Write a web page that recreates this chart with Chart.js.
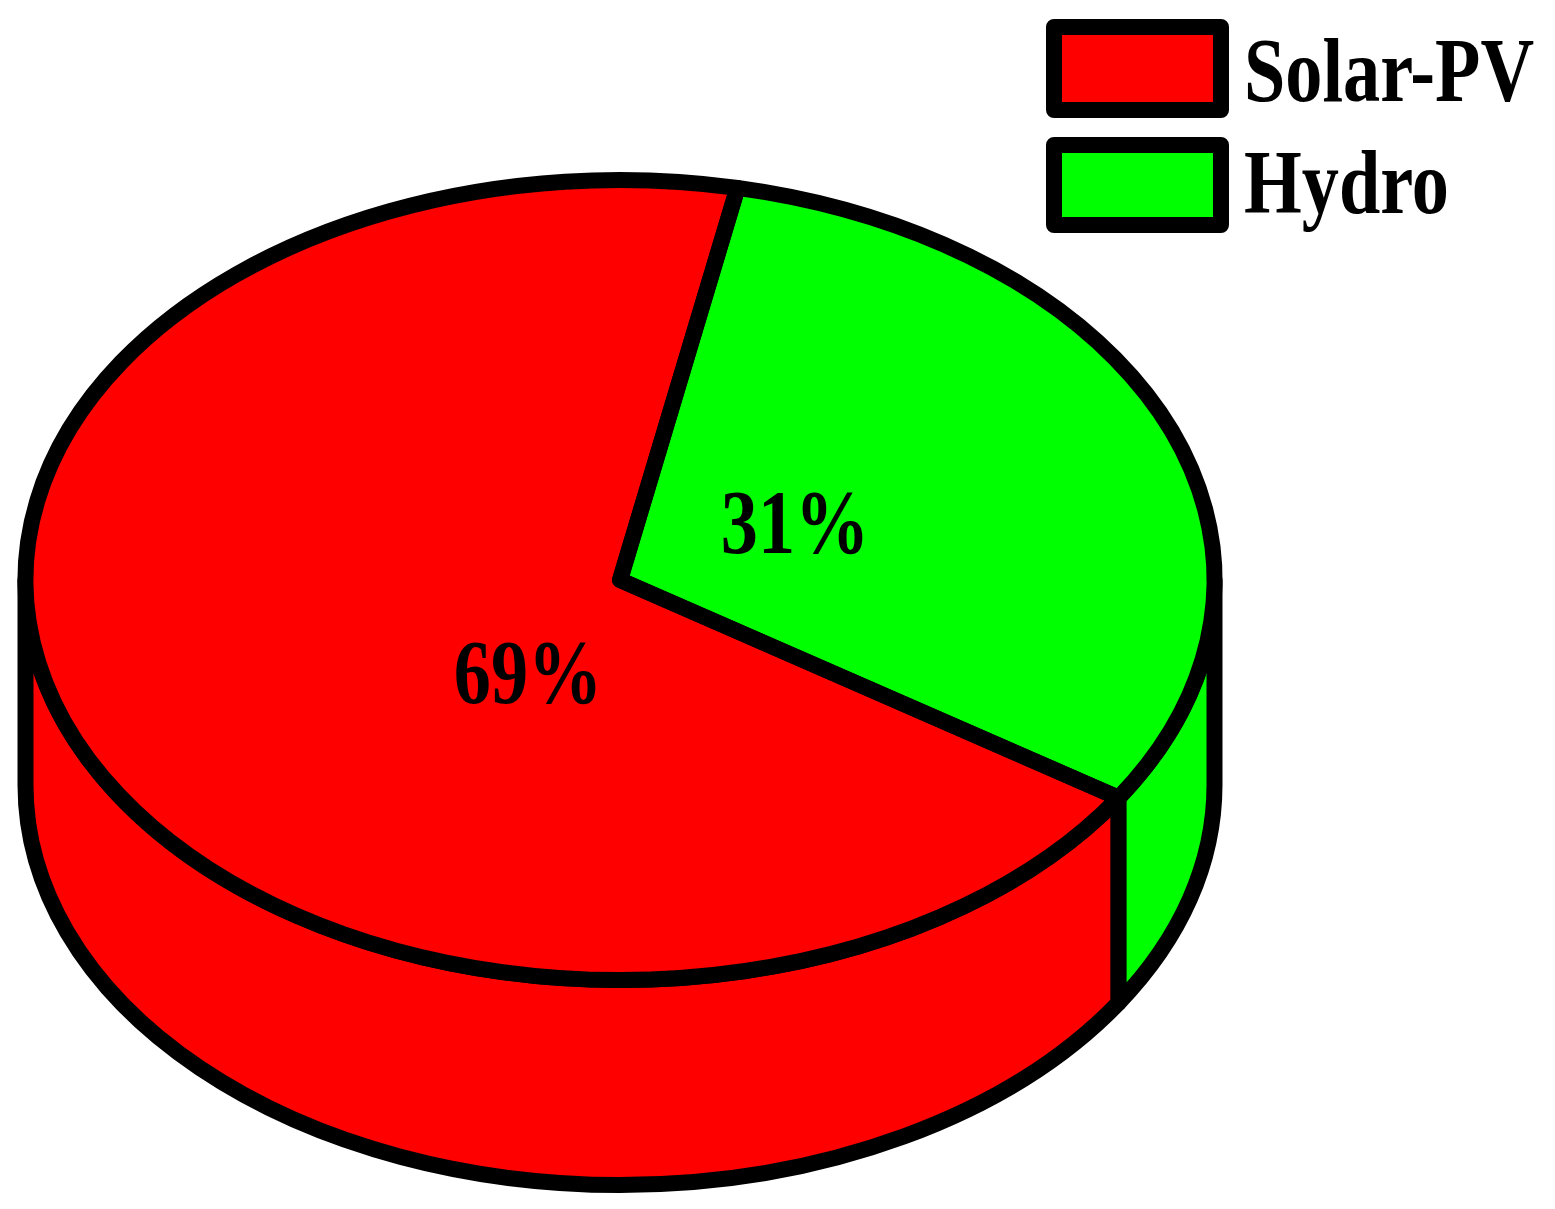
<!DOCTYPE html>
<html>
<head>
<meta charset="utf-8">
<style>html,body{margin:0;padding:0;background:#fff}canvas{display:block}</style>
<script src="https://cdn.jsdelivr.net/npm/chart.js@4/dist/chart.umd.min.js"></script>
</head>
<body>
<canvas id="c" width="1555" height="1209"></canvas>
<script>
const categories = ['Solar-PV', 'Hydro'];
const shares = [69, 31];
const sliceColors = ['#ff0000', '#00ff00'];
const percentLabels = ['69%', '31%'];

const view = {cx: 620, cy: 580, rx: 594.5, ry: 400, depth: 205, line: 16};
const labelSpots = [[528, 680], [795, 530]];
const legendBoxes = [[1054, 27, 167, 83], [1054, 145, 167, 80]];
const legendTextX = 1244;
const legendTextBase = [101, 213];
const TEXT_SQUEEZE = 0.825;
const FONT = 'bold 90px "Liberation Serif", serif';

function stretchedText(ctx, text, x, y, align, baseline) {
  ctx.save();
  ctx.translate(x, y);
  ctx.scale(TEXT_SQUEEZE, 1);
  ctx.font = FONT;
  ctx.fillStyle = '#000';
  ctx.textAlign = align;
  ctx.textBaseline = baseline;
  ctx.fillText(text, 0, 0);
  ctx.restore();
}

const pie3d = {
  id: 'pie3d',
  beforeDatasetsDraw(chart) {
    const ctx = chart.ctx;
    const arcs = chart.getDatasetMeta(0).data;
    const {cx, cy, rx, ry, depth, line} = view;
    ctx.save();
    ctx.lineWidth = line;
    ctx.strokeStyle = '#000';
    ctx.lineJoin = 'round';
    // side wall: the part of every slice facing the viewer (canvas angles 0..PI)
    arcs.forEach((arc, i) => {
      for (const k of [0, 1, 2]) {
        const a0 = Math.max(arc.startAngle, 2 * Math.PI * k - 2 * Math.PI);
        const a1 = Math.min(arc.endAngle, Math.PI + 2 * Math.PI * k - 2 * Math.PI);
        if (a1 <= a0) continue;
        ctx.beginPath();
        ctx.ellipse(cx, cy, rx, ry, 0, a0, a1);
        ctx.ellipse(cx, cy + depth, rx, ry, 0, a1, a0, true);
        ctx.closePath();
        ctx.fillStyle = sliceColors[i];
        ctx.fill();
        ctx.stroke();
      }
    });
    ctx.restore();
    // top face: the library's arcs, flattened into an ellipse
    const el = arcs[0];
    ctx.save();
    ctx.translate(cx, cy);
    ctx.scale(rx / el.outerRadius, ry / el.outerRadius);
    ctx.translate(-el.x, -el.y);
  },
  afterDatasetsDraw(chart) {
    const ctx = chart.ctx;
    ctx.restore();
    const arcs = chart.getDatasetMeta(0).data;
    const {cx, cy, rx, ry, line} = view;
    ctx.save();
    ctx.lineWidth = line;
    ctx.strokeStyle = '#000';
    ctx.lineJoin = 'round';
    arcs.forEach(arc => {
      ctx.beginPath();
      ctx.moveTo(cx, cy);
      ctx.ellipse(cx, cy, rx, ry, 0, arc.startAngle, arc.endAngle);
      ctx.closePath();
      ctx.stroke();
    });
    ctx.restore();
    percentLabels.forEach((t, i) => {
      stretchedText(ctx, t, labelSpots[i][0], labelSpots[i][1], 'center', 'middle');
    });
    // legend
    categories.forEach((name, i) => {
      const [x, y, w, h] = legendBoxes[i];
      ctx.save();
      ctx.fillStyle = sliceColors[i];
      ctx.strokeStyle = '#000';
      ctx.lineWidth = 16;
      ctx.lineJoin = 'round';
      ctx.fillRect(x, y, w, h);
      ctx.strokeRect(x, y, w, h);
      ctx.restore();
      stretchedText(ctx, name, legendTextX, legendTextBase[i], 'left', 'alphabetic');
    });
  }
};

new Chart(document.getElementById('c'), {
  type: 'pie',
  data: {
    labels: categories,
    datasets: [{
      data: shares,
      backgroundColor: sliceColors,
      borderWidth: 0,
      radius: 594,
      rotation: 123
    }]
  },
  options: {
    responsive: false,
    animation: false,
    events: [],
    layout: {padding: 0},
    plugins: {legend: {display: false}, tooltip: {enabled: false}}
  },
  plugins: [pie3d]
});
</script>
</body>
</html>
